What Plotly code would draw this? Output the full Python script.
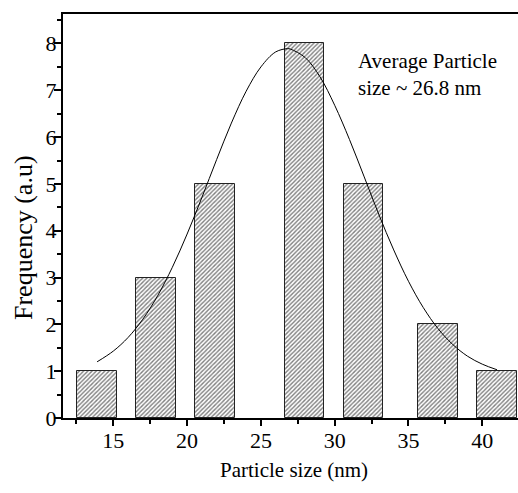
import plotly.graph_objects as go

# Histogram bars (bin centres in nm, counts)
bin_centers = [13.9, 17.9, 21.9, 27.95, 31.95, 37.0, 41.0]
counts = [1, 3, 5, 8, 5, 2, 1]
bar_width = 2.7

# Gaussian fit curve
curve_x = [13.9, 15, 16, 17, 18, 19, 20, 21, 22, 23, 24, 25, 26, 26.8, 27, 28, 29,
           30, 31, 32, 33, 34, 35, 36, 37, 38, 39, 40, 41]
curve_y = [1.20, 1.43, 1.72, 2.11, 2.61, 3.22, 3.93, 4.71, 5.52, 6.30, 6.98, 7.50, 7.82, 7.89, 7.88, 7.70, 7.29,
           6.68, 5.95, 5.15, 4.34, 3.59, 2.92, 2.36, 1.91, 1.57, 1.32, 1.15, 1.03]

x_ticks = [15, 20, 25, 30, 35, 40]
y_ticks = [0, 1, 2, 3, 4, 5, 6, 7, 8]

FONT = "Liberation Serif"

fig = go.Figure()
fig.add_trace(go.Bar(
    x=bin_centers, y=counts, width=bar_width,
    marker=dict(color="white",
                line=dict(color="#222222", width=1),
                pattern=dict(shape="/", fgcolor="black", bgcolor="white",
                             size=3, solidity=0.45)),
    showlegend=False,
))
fig.add_trace(go.Scatter(
    x=curve_x, y=curve_y, mode="lines",
    line=dict(color="black", width=1, shape="spline"),
    showlegend=False,
))

fig.update_layout(
    width=518, height=493,
    margin=dict(l=63, r=0, t=14, b=75),
    paper_bgcolor="white", plot_bgcolor="white",
    font=dict(family=FONT, color="black", size=22),
    bargap=0,
    annotations=[
        dict(x=0.645, y=0.918, xref="paper", yref="paper",
             xanchor="left", yanchor="top", align="left",
             text="Average Particle<br>size ~ 26.8 nm", showarrow=False,
             font=dict(family=FONT, size=21, color="black")),
        dict(x=0.5077, y=-0.1287, xref="paper", yref="paper",
             xanchor="center", yanchor="middle",
             text="Particle size (nm)", showarrow=False,
             font=dict(family=FONT, size=21, color="black")),
        dict(x=-0.0879, y=0.4455, xref="paper", yref="paper",
             xanchor="center", yanchor="middle", textangle=-90,
             text="Frequency (a.u)", showarrow=False,
             font=dict(family=FONT, size=26, color="black")),
    ],
)
fig.update_xaxes(
    range=[11.59, 42.42], tickvals=x_ticks, ticktext=[str(v) for v in x_ticks],
    showgrid=False, zeroline=False, automargin=False,
    showline=True, linewidth=2, linecolor="black", mirror=True,
    ticks="outside", ticklen=6, tickwidth=2, tickcolor="black",
    minor=dict(dtick=2.5, tick0=0, ticks="outside", ticklen=4, tickwidth=2, tickcolor="black", showgrid=False),
    tickfont=dict(family=FONT, size=22), ticklabelstandoff=-4,
)
fig.update_yaxes(
    range=[0, 8.63], tickvals=y_ticks, ticktext=[str(v) for v in y_ticks],
    showgrid=False, zeroline=False, automargin=False,
    showline=True, linewidth=2, linecolor="black", mirror=False,
    ticks="outside", ticklen=7, tickwidth=2, tickcolor="black",
    minor=dict(dtick=0.5, tick0=0, ticks="outside", ticklen=4, tickwidth=2, tickcolor="black", showgrid=False),
    tickfont=dict(family=FONT, size=22), ticklabelstandoff=-7,
)

fig.write_html("out.html", config={"displayModeBar": False},
               post_script="document.body.style.margin='0';")
